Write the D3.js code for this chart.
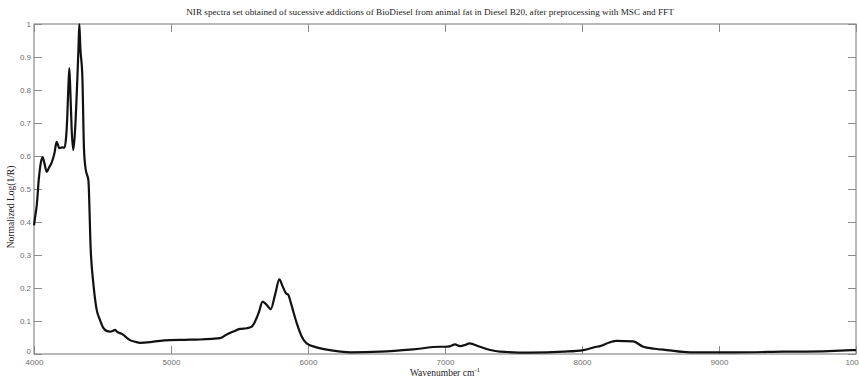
<!DOCTYPE html>
<html><head><meta charset="utf-8">
<script src="https://cdn.jsdelivr.net/npm/d3@7"></script>
<style>body{margin:0;background:#fff}svg{display:block}</style>
</head><body>
<script>
const wavenumber = [4000,4010,4020,4035,4050,4063,4075,4093,4110,4129,4150,4165,4185,4205,4222,4235,4243,4250,4258,4265,4275,4287,4300,4316,4325,4331,4338,4353,4365,4377,4397,4414,4433,4458,4482,4506,4530,4555,4575,4591,4605,4615,4635,4652,4675,4701,4740,4774,4847,4920,4993,5100,5212,5300,5358,5410,5455,5504,5553,5589,5613,5640,5669,5700,5728,5760,5791,5815,5839,5856,5875,5893,5922,5954,5990,6063,6185,6307,6526,6766,6964,7000,7040,7073,7109,7150,7177,7255,7330,7401,7620,7864,8010,8107,8131,8200,8253,8374,8447,8530,8618,8788,9104,9469,9800,10000];
const absorbance = [0.39,0.42,0.45,0.53,0.58,0.597,0.58,0.552,0.565,0.58,0.61,0.643,0.624,0.626,0.625,0.66,0.72,0.8,0.866,0.8,0.68,0.618,0.68,0.83,0.93,1.0,0.93,0.84,0.62,0.56,0.527,0.315,0.215,0.133,0.103,0.079,0.07,0.068,0.07,0.073,0.068,0.065,0.062,0.058,0.05,0.042,0.037,0.034,0.036,0.04,0.042,0.043,0.044,0.046,0.048,0.06,0.068,0.076,0.078,0.083,0.098,0.125,0.159,0.148,0.136,0.18,0.226,0.205,0.184,0.179,0.155,0.128,0.088,0.053,0.032,0.02,0.01,0.005,0.007,0.014,0.022,0.022,0.024,0.029,0.024,0.028,0.032,0.022,0.012,0.007,0.004,0.007,0.012,0.022,0.024,0.035,0.04,0.038,0.022,0.016,0.012,0.005,0.005,0.007,0.009,0.012];
const xTicks = [4000,5000,6000,7000,8000,9000,10000];
const yTicks = [0,0.1,0.2,0.3,0.4,0.5,0.6,0.7,0.8,0.9,1];
const titleText = "NIR spectra set obtained of sucessive addictions of BioDiesel from animal fat in Diesel B20, after preprocessing with MSC and FFT";

const W = 859, H = 381;
const m = {left:34, right:3, top:24, bottom:27};
const svg = d3.select("body").append("svg").attr("width",W).attr("height",H);
const x = d3.scaleLinear().domain([4000,10000]).range([m.left, W-m.right]);
const y = d3.scaleLinear().domain([0,1]).range([H-m.bottom, m.top]);
const axisCol = "#8a8a8a", labCol = "#6e6e6e";

// frame
svg.append("rect").attr("x",x(4000)).attr("y",y(1)).attr("width",x(10000)-x(4000)).attr("height",y(0)-y(1))
  .attr("fill","none").attr("stroke",axisCol).attr("stroke-width",1.2);

const tl = 8;
const style = g => { g.select(".domain").remove(); g.selectAll(".tick line").attr("stroke",axisCol);
  g.selectAll("text").attr("fill",labCol).style("font-family","Liberation Sans, Arial, sans-serif").style("font-size","8px"); };
svg.append("g").attr("transform",`translate(0,${y(0)})`)
  .call(d3.axisBottom(x).tickValues(xTicks).tickFormat(d3.format("d")).tickSizeInner(-tl).tickSizeOuter(0).tickPadding(5))
  .call(style);
svg.append("g").attr("transform",`translate(0,${y(1)})`)
  .call(d3.axisTop(x).tickValues(xTicks).tickFormat("").tickSizeInner(-tl).tickSizeOuter(0)).call(style);
const yg = svg.append("g").attr("transform",`translate(${x(4000)},0)`)
  .call(d3.axisLeft(y).tickValues(yTicks).tickFormat(d=>d3.format("~g")(d)).tickSizeInner(-tl).tickSizeOuter(0).tickPadding(3))
  .call(style);
yg.selectAll(".tick").filter(d=>d===0).select("text").attr("dy","-0.05em");
svg.append("g").attr("transform",`translate(${x(10000)},0)`)
  .call(d3.axisRight(y).tickValues(yTicks).tickFormat("").tickSizeInner(-tl).tickSizeOuter(0)).call(style);

// curve
const data = wavenumber.map((w,i)=>({w, a:absorbance[i]}));
const line = d3.line().x(d=>x(d.w)).y(d=>y(d.a)).curve(d3.curveMonotoneX);
svg.append("path").datum(data).attr("d",line).attr("fill","none").attr("stroke","#111").attr("stroke-width",2.2).attr("stroke-linejoin","round");

// texts
svg.append("text").attr("x",430).attr("y",15).attr("text-anchor","middle")
  .style("font-family","Liberation Serif, Times New Roman, serif").style("font-size","9.2px").attr("fill","#222").text(titleText);
const xl = svg.append("text").attr("x",445).attr("y",376).attr("text-anchor","middle")
  .style("font-family","Liberation Serif, Times New Roman, serif").style("font-size","9.5px").attr("fill","#222");
xl.append("tspan").text("Wavenumber cm");
xl.append("tspan").attr("dy",-4).style("font-size","7px").text("-1");
svg.append("text").attr("transform",`translate(14,${(y(0)+y(1))/2+18}) rotate(-90)`).attr("text-anchor","middle")
  .style("font-family","Liberation Serif, Times New Roman, serif").style("font-size","9.5px").attr("fill","#222").text("Normalized  Log(1/R)");
</script>
</body></html>
